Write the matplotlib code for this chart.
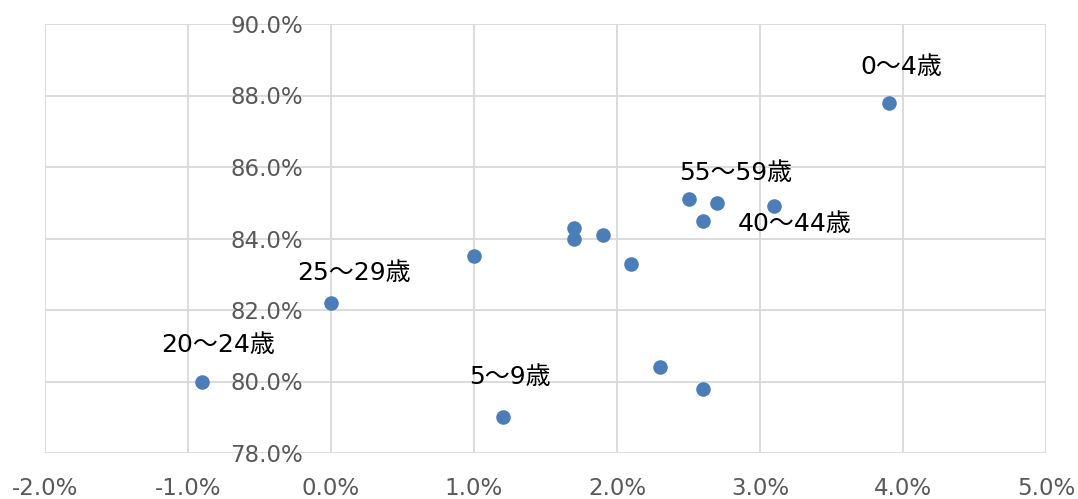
import matplotlib.pyplot as plt
from matplotlib.ticker import FuncFormatter

# x: change rate (%), y: ratio (%)
ages = ["0〜4歳", "5〜9歳", "10〜14歳", "15〜19歳", "20〜24歳", "25〜29歳", "30〜34歳",
        "35〜39歳", "40〜44歳", "45〜49歳", "50〜54歳", "55〜59歳", "60〜64歳", "65〜69歳", "70〜74歳"]
x_vals = [3.9, 1.2, 2.3, 2.6, -0.9, 0.0, 1.0, 1.7, 3.1, 1.7, 1.9, 2.5, 2.7, 2.6, 2.1]
y_vals = [87.8, 79.0, 80.4, 79.8, 80.0, 82.2, 83.5, 84.3, 84.9, 84.0, 84.1, 85.1, 85.0, 84.5, 83.3]
shown = ["0〜4歳", "5〜9歳", "20〜24歳", "25〜29歳", "40〜44歳", "55〜59歳"]
# label offsets in pixels (dx, dy up)
offsets = {"0〜4歳": (13, 36), "5〜9歳": (7, 40), "20〜24歳": (16, 36),
           "25〜29歳": (23, 30), "40〜44歳": (20, -18), "55〜59歳": (47, 26)}

fig = plt.figure(figsize=(10.78, 4.99), dpi=100)
ax = fig.add_axes([45/1078, 1-453/499, (1046-45)/1078, (453-24)/499])

ax.scatter(x_vals, y_vals, s=110, color="#4a7ebb", zorder=3, linewidths=0)

for a, xv, yv in zip(ages, x_vals, y_vals):
    if a in shown:
        dx, dy = offsets[a]
        ax.annotate(a, (xv, yv), xytext=(dx*0.72, dy*0.72), textcoords="offset points",
                    ha="center", va="center", fontsize=18, color="black",
                    family=["DejaVu Sans", "Noto Sans CJK JP"])

ax.set_xlim(-2, 5)
ax.set_ylim(78, 90)
ax.set_xticks(range(-2, 6))
ax.set_yticks(range(78, 91, 2))
ax.xaxis.set_major_formatter(FuncFormatter(lambda v, p: f"{v:.1f}%"))
ax.yaxis.set_major_formatter(FuncFormatter(lambda v, p: f"{v:.1f}%"))

ax.grid(True, color="#d9d9d9", linewidth=1.3, zorder=0)
ax.set_axisbelow(True)
for s in ax.spines.values():
    s.set_visible(False)
ax.spines["left"].set_position(("data", 0))

ax.tick_params(axis="both", length=0, labelsize=16.5, labelcolor="#595959")
ax.tick_params(axis="y", pad=20)
ax.tick_params(axis="x", pad=17)

fig.savefig("out.png", dpi=100)
